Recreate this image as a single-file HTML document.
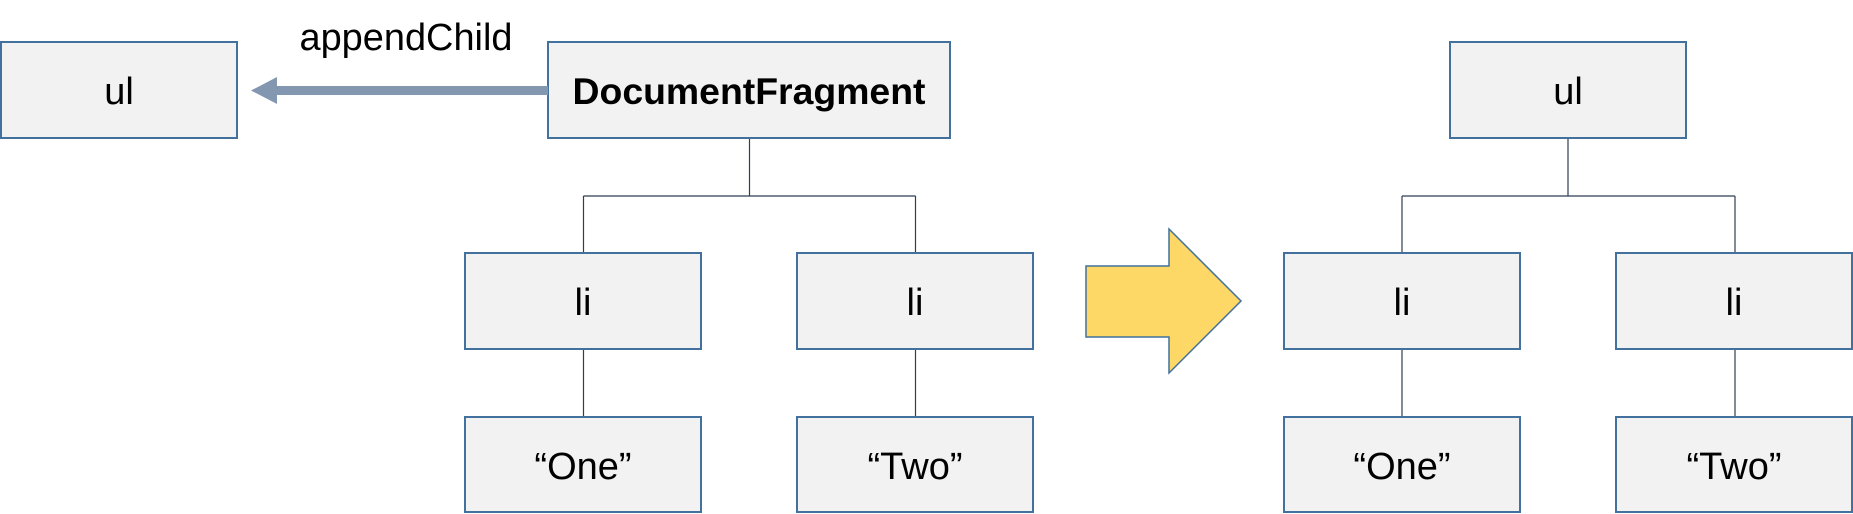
<!DOCTYPE html>
<html><head><meta charset="utf-8"><style>html,body{margin:0;padding:0;background:#fff}svg{display:block}</style></head>
<body>
<svg width="1853" height="514" viewBox="0 0 1853 514" xmlns="http://www.w3.org/2000/svg" font-family="Liberation Sans, sans-serif">
<g stroke="#2f3e50" stroke-width="1.2" fill="none">
<path d="M749.5 138V196M583.5 196H915.5M583.5 196V253M915.5 196V253M583.5 349V417M915.5 349V417"/>
<path d="M1568 138V196M1402 196H1735M1402 196V253M1735 196V253M1402 349V417M1735 349V417"/>
</g>
<g fill="#f2f2f2" stroke="#41719c" stroke-width="2">
<rect x="1" y="42" width="236" height="96"/>
<rect x="548" y="42" width="402" height="96"/>
<rect x="465" y="253" width="236" height="96"/>
<rect x="797" y="253" width="236" height="96"/>
<rect x="465" y="417" width="236" height="95"/>
<rect x="797" y="417" width="236" height="95"/>
<rect x="1450" y="42" width="236" height="96"/>
<rect x="1284" y="253" width="236" height="96"/>
<rect x="1616" y="253" width="236" height="96"/>
<rect x="1284" y="417" width="236" height="95"/>
<rect x="1616" y="417" width="236" height="95"/>
</g>
<rect x="277" y="86" width="271" height="9" fill="#8497b0"/>
<polygon points="251,90.5 277,77 277,104" fill="#8497b0"/>
<polygon points="1086,266 1169,266 1169,229 1241,301 1169,373 1169,337 1086,337" fill="#fdd866" stroke="#41719c" stroke-width="1.5"/>
<g font-size="38" text-anchor="middle" fill="#000">
<text x="406" y="50" font-size="38" textLength="213" lengthAdjust="spacingAndGlyphs">appendChild</text>
<text x="119" y="104">ul</text>
<text x="749" y="104" font-size="37" font-weight="bold" textLength="353" lengthAdjust="spacingAndGlyphs">DocumentFragment</text>
<text x="583" y="315">li</text>
<text x="915" y="315">li</text>
<text x="583" y="479">“One”</text>
<text x="915" y="479">“Two”</text>
<text x="1568" y="104">ul</text>
<text x="1402" y="315">li</text>
<text x="1734" y="315">li</text>
<text x="1402" y="479">“One”</text>
<text x="1734" y="479">“Two”</text>
</g>
</svg>
</body></html>
